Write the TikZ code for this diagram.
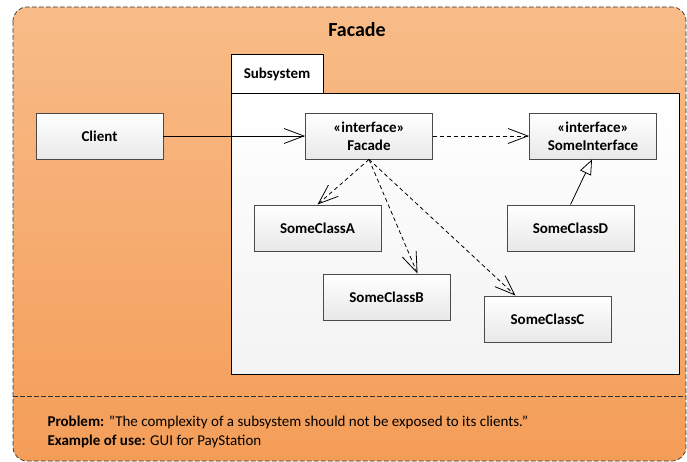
\documentclass[tikz,border=0pt]{standalone}
\usepackage{fontspec}
\setmainfont{Carlito}
\usetikzlibrary{arrows.meta,positioning}
\definecolor{orangetop}{HTML}{F8BC88}
\definecolor{orangebot}{HTML}{F49D58}
\definecolor{boxedge}{HTML}{4A4A4A}
\definecolor{panel}{HTML}{F3F3F3}
\tikzset{
  classbox/.style={draw=boxedge, line width=0.9pt, top color=white, bottom color=black!9,
    minimum width=127pt, minimum height=46pt, inner sep=0pt,
    font=\fontsize{15}{18}\selectfont\bfseries, align=center},
  assoc/.style={draw=black, line width=0.8pt, -{Straight Barb[length=20pt,width=15pt]}},
  depend/.style={assoc, dash pattern=on 4pt off 3pt},
  realize/.style={draw=black, line width=0.8pt, -{Triangle[open, fill=white, length=15pt, width=12pt]}},
  frameline/.style={draw=black!80, line width=0.7pt, dash pattern=on 4.5pt off 2.5pt},
  note/.style={anchor=west, font=\fontsize{15}{18}\selectfont},
}
\begin{document}
\begin{tikzpicture}[x=1pt, y=-1pt]
\useasboundingbox (0,0) rectangle (687,461);

% outer pattern frame
\path[top color=orangetop, bottom color=orangebot, rounded corners=14pt]
  (13,7) rectangle (686,461);
\draw[frameline, rounded corners=14pt] (13,7) rectangle (686,461);
\draw[frameline] (13,396) -- (686,396);
\node[font=\fontsize{20}{24}\selectfont\bfseries] (title) at (357,30) {Facade};

% subsystem package
\draw[line width=1pt, fill=white] (231,54) rectangle (323,93);
\node[font=\fontsize{15}{18}\selectfont\bfseries] (pkg) at (277,74) {Subsystem};
\draw[line width=1pt, top color=white, bottom color=panel] (231,93) rectangle (679,374);

% classes
\node[classbox] (client) at (99.5,136) {Client};
\node[classbox] (facade) at (369,136) {«interface»\\Facade};
\node[classbox] (iface) at (593,136) {«interface»\\SomeInterface};
\node[classbox] (a) at (317.5,228) {SomeClassA};
\node[classbox] (b) at (386.5,297) {SomeClassB};
\node[classbox] (c) at (547.5,319) {SomeClassC};
\node[classbox] (d) at (570.5,228) {SomeClassD};

% relations
\draw[assoc] (client) -- (facade);
\draw[depend] (facade) -- (iface);
\draw[depend] (facade.south) -- (a.north);
\draw[depend] (facade.south) -- ([xshift=31pt]b.north);
\draw[depend] (facade.south) -- ([xshift=-32pt]c.north);
\draw[realize] (d.north) -- ([xshift=-1pt]iface.south);

% notes
\node[note] (problem) at (44,422)
  {\textbf{Problem:} ”The complexity of a subsystem should not be exposed to its clients.”};
\node[note] (use) at (44,441)
  {\textbf{Example of use:} GUI for PayStation};
\end{tikzpicture}
\end{document}
